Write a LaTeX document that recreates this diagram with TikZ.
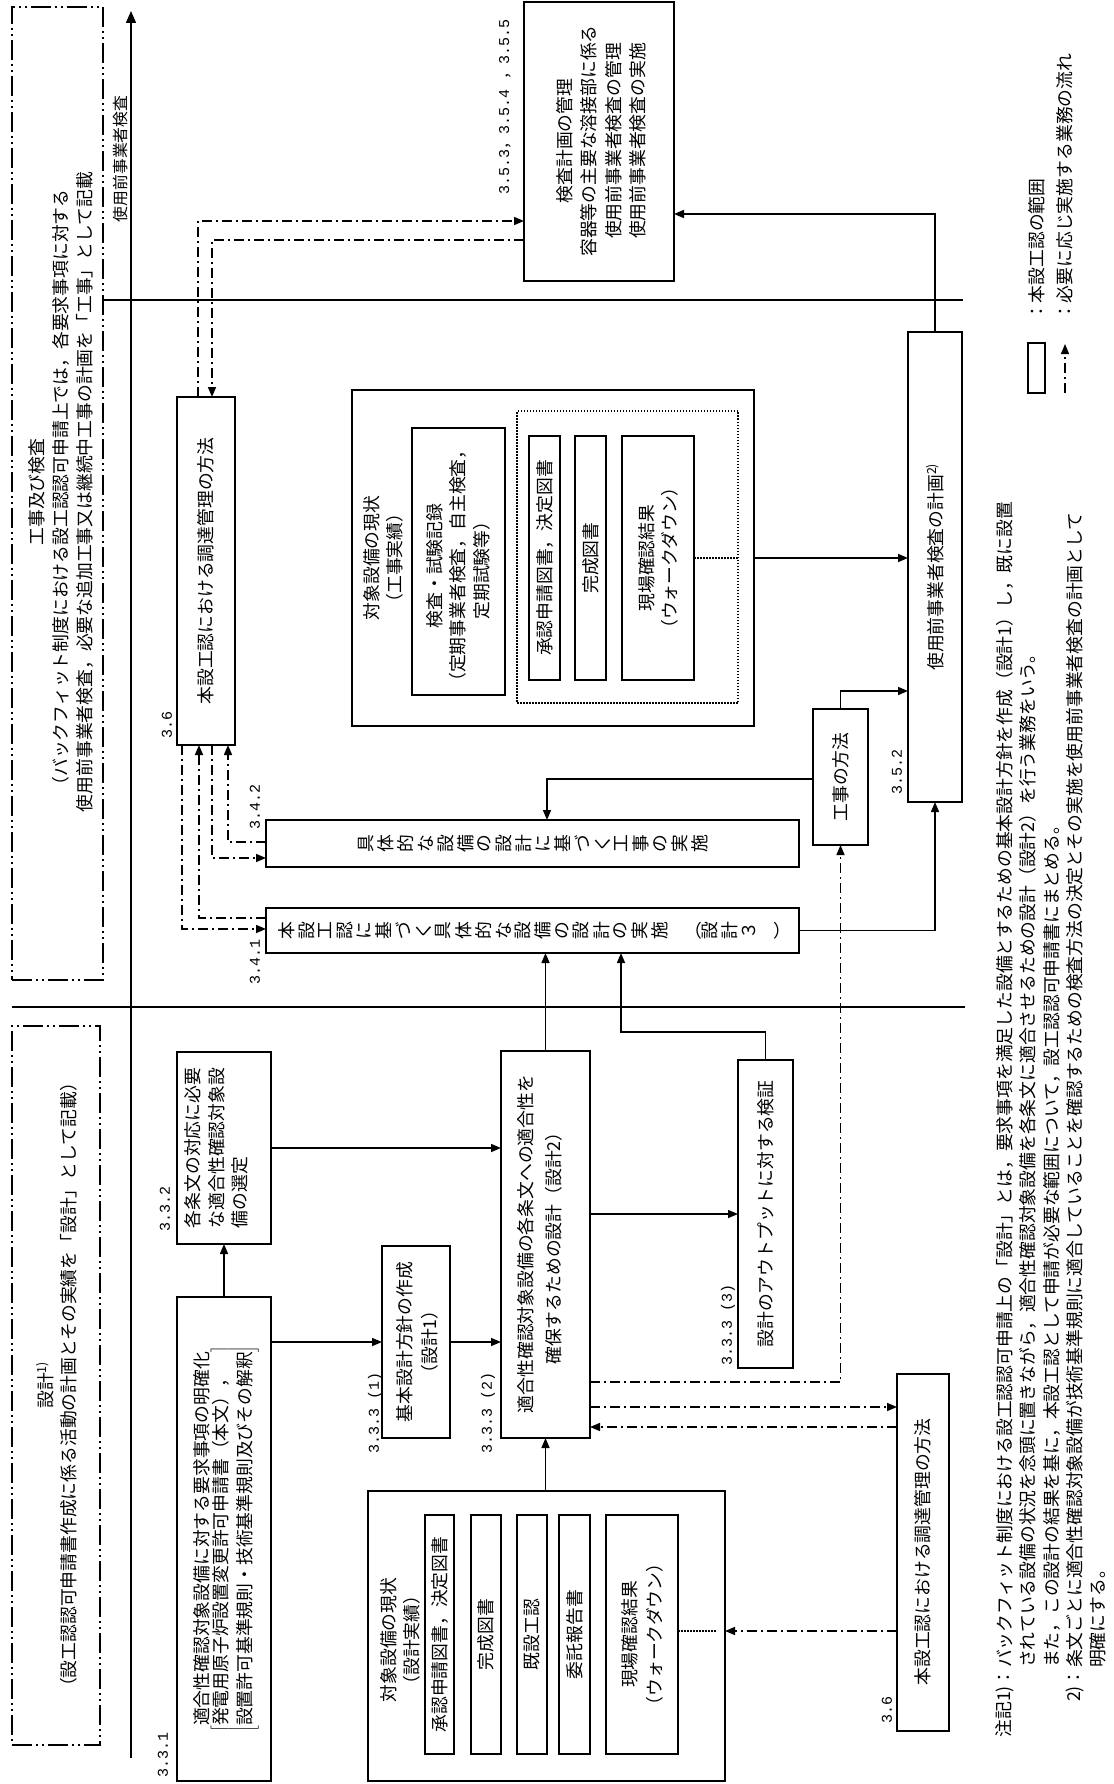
\documentclass[tikz,border=0pt]{standalone}
\usepackage{fontspec}
\setmainfont{Noto Sans CJK JP}
\newfontfamily\jp{Noto Sans CJK JP}
\newfontfamily\numfont{Liberation Mono}
\usetikzlibrary{arrows.meta}
\newcommand\bx[6][]{\node[box,#1,minimum width={(#4)-(#2)},minimum height={(#5)-(#3)}] (#6) at (#2,#3) {};}
\begin{document}
\begin{tikzpicture}[x=1pt,y=-1pt,
 box/.style={draw,line width=1.6pt,inner sep=0pt,outer sep=0pt,anchor=north west},
 zone/.style={line width=1.4pt,dash pattern=on 20pt off 4pt on 2pt off 4pt on 2pt off 4pt},
 dotbox/.style={line width=1.3pt,dash pattern=on 1.5pt off 1.5pt},
 ln/.style={line width=1.5pt},
 dd/.style={line width=1.5pt,dash pattern=on 10pt off 4pt on 2pt off 4pt},
 dt/.style={line width=1.3pt,dash pattern=on 1.5pt off 1.5pt},
 arr/.style={-{Triangle[length=10pt,width=8pt]}},
 tx/.style={rotate=90,align=center,inner sep=0pt,font=\fontsize{17.8}{23.5}\selectfont},
 ft/.style={rotate=90,inner sep=0pt,font=\fontsize{17.8}{23.5}\selectfont},
 num/.style={rotate=90,inner sep=0pt,font=\numfont\fontsize{15}{18}\selectfont},
 vt/.style={rotate=90,inner sep=0pt,font=\fontsize{17.8}{17.8}\selectfont}
]
\useasboundingbox (0,0) rectangle (1113,1784);

% ---------- zones ----------
\bx[zone]{12}{7}{103}{980}{topzone}
\bx[zone]{12}{1026}{100}{1745}{lowzone}
\node[tx,font=\fontsize{17.8}{24}\selectfont] (ttop) at (61,492) {工事及び検査\\（バックフィット制度における設工認認可申請上では，各要求事項に対する\\使用前事業者検査，必要な追加工事又は継続中工事の計画を「工事」として記載};
\node[tx,font=\fontsize{17.8}{23}\selectfont] (tlow) at (56.5,1385) {設計\textsuperscript{1)}\\（設工認認可申請書作成に係る活動の計画とその実績を「設計」として記載）};

% ---------- axis and separators ----------
\coordinate (axB) at (131,1758);
\coordinate (axT) at (131,11);
\draw[line width=1.5pt,-{Triangle[length=12pt,width=10pt]}] (axB) -- (axT);
\node[tx,font=\fontsize{15.8}{19}\selectfont] (tax) at (120,159) {使用前事業者検査};
\coordinate (h1a) at (102,300); \coordinate (h1b) at (963,300);
\draw[ln] (h1a) -- (h1b);
\coordinate (h2a) at (12,1007); \coordinate (h2b) at (965,1007);
\draw[ln] (h2a) -- (h2b);

% ---------- upper part ----------
\bx{524}{2}{674}{281}{kp}
\node[tx,font=\fontsize{17.8}{24.5}\selectfont] (tkp) at (601,141) {検査計画の管理\\容器等の主要な溶接部に係る\\使用前事業者検査の管理\\使用前事業者検査の実施};
\node[num] (n353) at (505,107) {3.5.3{\jp ，}3.5.4 {\jp ，}3.5.5};

\bx{908}{332}{962}{802}{up}
\node[tx] (tup) at (935,567) {使用前事業者検査の計画\textsuperscript{2)}};

\bx{813}{709}{868}{845}{km}
\node[tx] (tkm) at (840.5,777) {工事の方法};
\node[num] (n352) at (897,772) {3.5.2};

\bx{352}{390}{754}{726}{kj}
\node[tx,font=\fontsize{17.8}{23}\selectfont] (tkj) at (383.5,558) {対象設備の現状\\（工事実績）};
\bx{412}{428}{505}{695}{kr}
\node[tx,font=\fontsize{17.8}{23.5}\selectfont] (tkr) at (458,566) {検査・試験記録\\（定期事業者検査，自主検査，\\定期試験等）};
\bx[dotbox]{517}{411}{738}{703}{kd}
\bx{529}{436}{560}{680}{ka}
\node[tx] (tka) at (544.5,558) {承認申請図書，決定図書};
\bx{575}{436}{606}{680}{kb}
\node[tx] (tkb) at (590.5,558) {完成図書};
\bx{622}{436}{694}{680}{kc}
\node[tx,font=\fontsize{17.8}{23}\selectfont] (tkc) at (658,558) {現場確認結果\\（ウォークダウン）};

\bx{177}{397}{235}{745}{tp}
\node[tx] (ttp) at (206,571) {本設工認における調達管理の方法};
\node[num] (n36a) at (167,725) {3.6};

\bx{266}{820}{799}{867}{c42}
\node[vt] (tc42) at (535,843.5) {\begin{tabular}{@{}c@{}}具\\体\\的\\な\\設\\備\\の\\設\\計\\に\\基\\づ\\く\\工\\事\\の\\実\\施\end{tabular}};
\node[num] (n342) at (255,807) {3.4.2};

\bx{266}{908}{799}{953}{c41}
\node[vt] (tc41) at (535,930.5) {\begin{tabular}{@{}c@{}}本\\設\\工\\認\\に\\基\\づ\\く\\具\\体\\的\\な\\設\\備\\の\\設\\計\\の\\実\\施\\\rotatebox{-90}{（}\\設\\計\\３\\\rotatebox{-90}{）}\end{tabular}};
\node[num] (n341) at (255,962) {3.4.1};

% ---------- lower part ----------
\bx{177}{1052}{271}{1244}{jc}
\node[tx,align=left,font=\fontsize{17.8}{23.5}\selectfont] (tjc) at (216.5,1148) {各条文の対応に必要\\な適合性確認対象設\\備の選定};
\node[num] (n332) at (165,1209) {3.3.2};

\bx{177}{1297}{271}{1781}{yk}
\node[tx,font=\fontsize{17.8}{23.5}\selectfont] (tyk) at (226,1539) {適合性確認対象設備に対する要求事項の明確化\\$\left[\mbox{\begin{tabular}{@{}l@{}}発電用原子炉設置変更許可申請書（本文），\\設置許可基準規則・技術基準規則及びその解釈\end{tabular}}\right]$};
\node[num] (n331) at (163,1755) {3.3.1};

\bx{382}{1246}{450}{1438}{kh}
\node[tx,font=\fontsize{17.8}{25}\selectfont] (tkh) at (417,1342) {基本設計方針の作成\\（設計1）};
\node[num] (n3331) at (375,1413) {3.3.3 (1)};

\bx{501}{1051}{590}{1438}{tg}
\node[tx,font=\fontsize{17.8}{28}\selectfont] (ttg) at (540,1244) {適合性確認対象設備の各条文への適合性を\\確保するための設計（設計2）};
\node[num] (n3332) at (488,1413) {3.3.3 (2)};

\bx{738}{1060}{793}{1368}{so}
\node[tx] (tso) at (765.5,1214) {設計のアウトプットに対する検証};
\node[num] (n3333) at (728,1325) {3.3.3 (3)};

\bx{897}{1374}{949}{1731}{lp}
\node[tx] (tlp) at (923,1552) {本設工認における調達管理の方法};
\node[num] (n36b) at (887,1710) {3.6};

\bx{368}{1491}{725}{1781}{sj}
\node[tx,font=\fontsize{17.8}{23}\selectfont] (tsj) at (400.5,1640) {対象設備の現状\\（設計実績）};
\bx{425}{1515}{454}{1754}{sa}
\node[tx] (tsa) at (439.5,1634.5) {承認申請図書，決定図書};
\bx{471}{1515}{501}{1754}{sb}
\node[tx] (tsb) at (486,1634.5) {完成図書};
\bx{517}{1515}{547}{1754}{sc}
\node[tx] (tsc) at (532,1634.5) {既設工認};
\bx{559}{1515}{590}{1754}{sd}
\node[tx] (tsd) at (574.5,1634.5) {委託報告書};
\bx{606}{1515}{678}{1754}{se}
\node[tx,font=\fontsize{17.8}{25}\selectfont] (tse) at (642,1634.5) {現場確認結果\\（ウォークダウン）};

% ---------- solid connectors ----------
\draw[ln,arr] (up.north) |- (kp.east |- 0,214);
\draw[ln,arr] (kj.east |- 0,558) -- (up.west |- 0,558);
\draw[ln,arr] (c41.east) -| (up.south);
\draw[ln,arr] (km.north) |- (up.west |- 0,691);
\draw[ln,arr] (km.west |- 0,779) -| (c42.north -| 547,0);
\draw[ln,arr] (tg.north) -- (c41.south -| tg.north);
\draw[ln,arr] (so.north) |- (621,1032) -- (c41.south -| 621,0);
\draw[ln,arr] (yk.north) -- (jc.south);
\draw[ln,arr] (jc.east) -- (tg.west |- jc.east);
\draw[ln,arr] (yk.east |- kh.west) -- (kh.west);
\draw[ln,arr] (kh.east) -- (tg.west |- kh.east);
\draw[ln,arr] (sj.north -| tg.south) -- (tg.south);
\draw[ln,arr] (tg.east |- so.west) -- (so.west);

% ---------- dash-dot connectors ----------
\draw[dd,arr] (tp.north -| 198,0) |- (kp.west |- 0,221);
\draw[dd,arr] (kp.west |- 0,240) -| (tp.north -| 212,0);
\draw[dd,arr] (tp.south -| 182,0) |- (c41.west |- 0,929);
\draw[dd,arr] (c41.west |- 0,918) -| (tp.south -| 199,0);
\draw[dd,arr] (tp.south -| 212,0) |- (c42.west |- 0,858);
\draw[dd,arr] (c42.west |- 0,842) -| (tp.south -| 228,0);
\draw[dd,arr] (tg.east |- 0,1382) -| (km.south);
\draw[dd,arr] (tg.east |- 0,1407) -- (lp.west |- 0,1407);
\draw[dd,arr] (lp.west |- 0,1427) -- (tg.east |- 0,1427);
\draw[dd,arr] (lp.west |- 0,1631) -- (sj.east |- 0,1631);

% ---------- dotted links ----------
\draw[dt] (kc.east |- 0,558) -- (kd.east |- 0,558);
\draw[dt] (se.east |- 0,1631) -- (716,1631);

% ---------- legend ----------
\bx{1028}{343}{1045}{393}{lg}
\node[ft,anchor=west] (lgt1) at (1037,321) {：本設工認の範囲};
\coordinate (lgA) at (1065,393); \coordinate (lgB) at (1065,344);
\draw[dd,arr] (lgA) -- (lgB);
\node[ft,anchor=west] (lgt2) at (1065,321) {：必要に応じ実施する業務の流れ};

% ---------- footnotes ----------
\node[ft,anchor=east] (f1p) at (1005,1668) {注記1)：};
\node[ft,anchor=west] (f1) at (1005,1668) {バックフィット制度における設工認認可申請上の「設計」とは，要求事項を満足した設備とするための基本設計方針を作成（設計1）し，既に設置};
\node[ft,anchor=west] (f2) at (1028,1668) {されている設備の状況を念頭に置きながら，適合性確認対象設備を各条文に適合させるための設計（設計2）を行う業務をいう。};
\node[ft,anchor=west] (f3) at (1052,1668) {また，この設計の結果を基に，本設工認として申請が必要な範囲について，設工認認可申請書にまとめる。};
\node[ft,anchor=east] (f4p) at (1075,1668) {2)：};
\node[ft,anchor=west] (f4) at (1075,1668) {条文ごとに適合性確認対象設備が技術基準規則に適合していることを確認するための検査方法の決定とその実施を使用前事業者検査の計画として};
\node[ft,anchor=west] (f5) at (1098,1668) {明確にする。};
\end{tikzpicture}
\end{document}
